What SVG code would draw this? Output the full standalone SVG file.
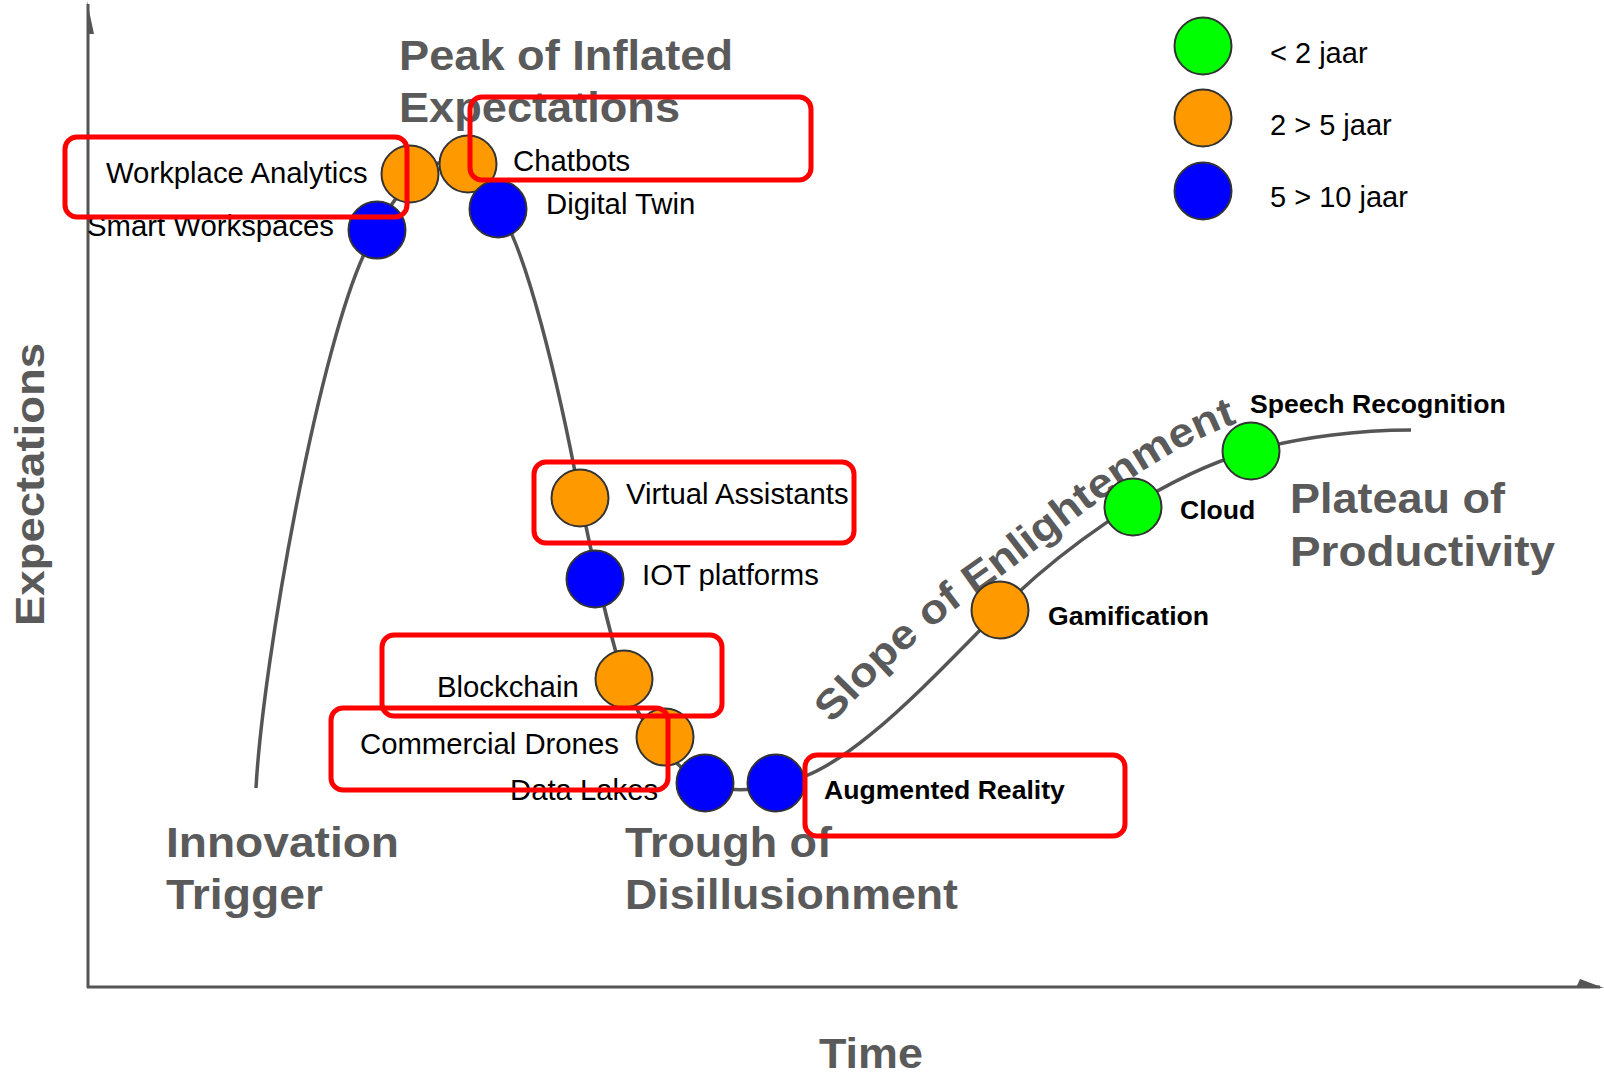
<svg xmlns="http://www.w3.org/2000/svg" width="1604" height="1075" viewBox="0 0 1604 1075">
<style>
.hd{font-family:"Liberation Sans",Arial,sans-serif;font-weight:bold;font-size:43px;fill:#5a5a5a}
.axis{stroke:#555;stroke-width:3;fill:none}
.curve{stroke:#555;stroke-width:3.5;fill:none}
.dot{stroke:#333;stroke-width:2}
.o{fill:#FF9900}.b{fill:#0000FF}.g{fill:#00FF00}
.lb{font-family:"Liberation Sans",Arial,sans-serif;font-size:29.3px;fill:#000}
.lbb{font-family:"Liberation Sans",Arial,sans-serif;font-size:26.6px;font-weight:bold;fill:#000}
.lg{font-family:"Liberation Sans",Arial,sans-serif;font-size:29px;fill:#000}
.hl{fill:none;stroke:#FF0000;stroke-width:5}
</style>
<defs>
<path id="slopePath" d="M 832 724 C 874 678, 928 627, 983 589 C 1058 537, 1140 457, 1240 422"/>
</defs>
<rect width="1604" height="1075" fill="#ffffff"/>
<g id="headings">
<text class="hd" x="399" y="70" textLength="334" lengthAdjust="spacingAndGlyphs">Peak of Inflated</text>
<text class="hd" x="399" y="122" textLength="281" lengthAdjust="spacingAndGlyphs">Expectations</text>
<text class="hd" x="166" y="857" textLength="233" lengthAdjust="spacingAndGlyphs">Innovation</text>
<text class="hd" x="166" y="909" textLength="157" lengthAdjust="spacingAndGlyphs">Trigger</text>
<text class="hd" x="625" y="857" textLength="207" lengthAdjust="spacingAndGlyphs">Trough of</text>
<text class="hd" x="625" y="909" textLength="333" lengthAdjust="spacingAndGlyphs">Disillusionment</text>
<text class="hd" x="1290" y="513" textLength="215" lengthAdjust="spacingAndGlyphs">Plateau of</text>
<text class="hd" x="1290" y="566" textLength="265" lengthAdjust="spacingAndGlyphs">Productivity</text>
<text class="hd" x="819" y="1068" textLength="104" lengthAdjust="spacingAndGlyphs">Time</text>
<text class="hd" style="font-size:40px" transform="translate(44,626) rotate(-90)" textLength="283" lengthAdjust="spacingAndGlyphs">Expectations</text>
<text class="hd" style="font-size:41px"><textPath href="#slopePath" textLength="508" lengthAdjust="spacingAndGlyphs">Slope of Enlightenment</textPath></text>
</g>
<g id="axes">
<line class="axis" x1="88" y1="4" x2="88" y2="988"/>
<polygon points="87,1 94,34 87,34" fill="#555"/>
<line class="axis" x1="87" y1="987" x2="1600" y2="987"/>
<polygon points="1576,988 1604,988 1580,979" fill="#555"/>
</g>
<g id="connectors">
<path class="curve" d="M 256 788 C 263 660, 320 340, 368 246 C 390 200, 420 160, 455 160 C 480 160, 490 185, 498 209 C 525 245, 558 380, 580 498 C 590 545, 605 620, 624 679 C 640 725, 670 765, 704 783 C 720 792, 760 792, 777 783 C 840 780, 930 680, 1000 610 C 1050 560, 1150 480, 1251 451 C 1300 437, 1360 430, 1411 430"/>
</g>
<g id="legend">
<circle class="dot g" cx="1203" cy="46" r="28.5"/>
<text class="lg" x="1270" y="63">&lt; 2 jaar</text>
<circle class="dot o" cx="1203" cy="118" r="28.5"/>
<text class="lg" x="1270" y="135">2 &gt; 5 jaar</text>
<circle class="dot b" cx="1203" cy="191" r="28.5"/>
<text class="lg" x="1270" y="207">5 &gt; 10 jaar</text>
</g>
<g id="n-workplace"><circle class="dot o" cx="410" cy="174" r="28.5"/><text class="lb" x="106" y="183">Workplace Analytics</text></g>
<g id="n-smart"><circle class="dot b" cx="377" cy="230" r="28.5"/><text class="lb" x="334" y="236" text-anchor="end">Smart Workspaces</text></g>
<g id="n-chatbots"><circle class="dot o" cx="468" cy="164" r="28.5"/><text class="lb" x="513" y="171">Chatbots</text></g>
<g id="n-digital"><circle class="dot b" cx="498" cy="209" r="28.5"/><text class="lb" x="546" y="214">Digital Twin</text></g>
<g id="n-virtual"><circle class="dot o" cx="580" cy="498" r="28.5"/><text class="lb" x="626" y="504">Virtual Assistants</text></g>
<g id="n-iot"><circle class="dot b" cx="595" cy="579" r="28.5"/><text class="lb" x="642" y="585">IOT platforms</text></g>
<g id="n-blockchain"><circle class="dot o" cx="624" cy="679" r="28.5"/><text class="lb" x="437" y="697">Blockchain</text></g>
<g id="n-drones"><circle class="dot o" cx="665" cy="737" r="28.5"/><text class="lb" x="360" y="754">Commercial Drones</text></g>
<g id="n-datalakes"><circle class="dot b" cx="705" cy="783" r="28.5"/><text class="lb" x="510" y="800">Data Lakes</text></g>
<g id="n-ar"><circle class="dot b" cx="776" cy="783" r="28.5"/><text class="lbb" x="824" y="799">Augmented Reality</text></g>
<g id="n-gamification"><circle class="dot o" cx="1000" cy="610" r="28.5"/><text class="lbb" x="1048" y="625">Gamification</text></g>
<g id="n-cloud"><circle class="dot g" cx="1133" cy="507" r="28.5"/><text class="lbb" x="1180" y="519">Cloud</text></g>
<g id="n-speech"><circle class="dot g" cx="1251" cy="451" r="28.5"/><text class="lbb" x="1250" y="413">Speech Recognition</text></g>
<g id="highlights">
<rect class="hl" x="65" y="137" width="342" height="80" rx="12"/>
<rect class="hl" x="470" y="97" width="341" height="83" rx="12"/>
<rect class="hl" x="534" y="462" width="320" height="81" rx="12"/>
<rect class="hl" x="382" y="635" width="340" height="81" rx="12"/>
<rect class="hl" x="331" y="708" width="337" height="82" rx="12"/>
<rect class="hl" x="805" y="755" width="320" height="81" rx="12"/>
</g>
</svg>
